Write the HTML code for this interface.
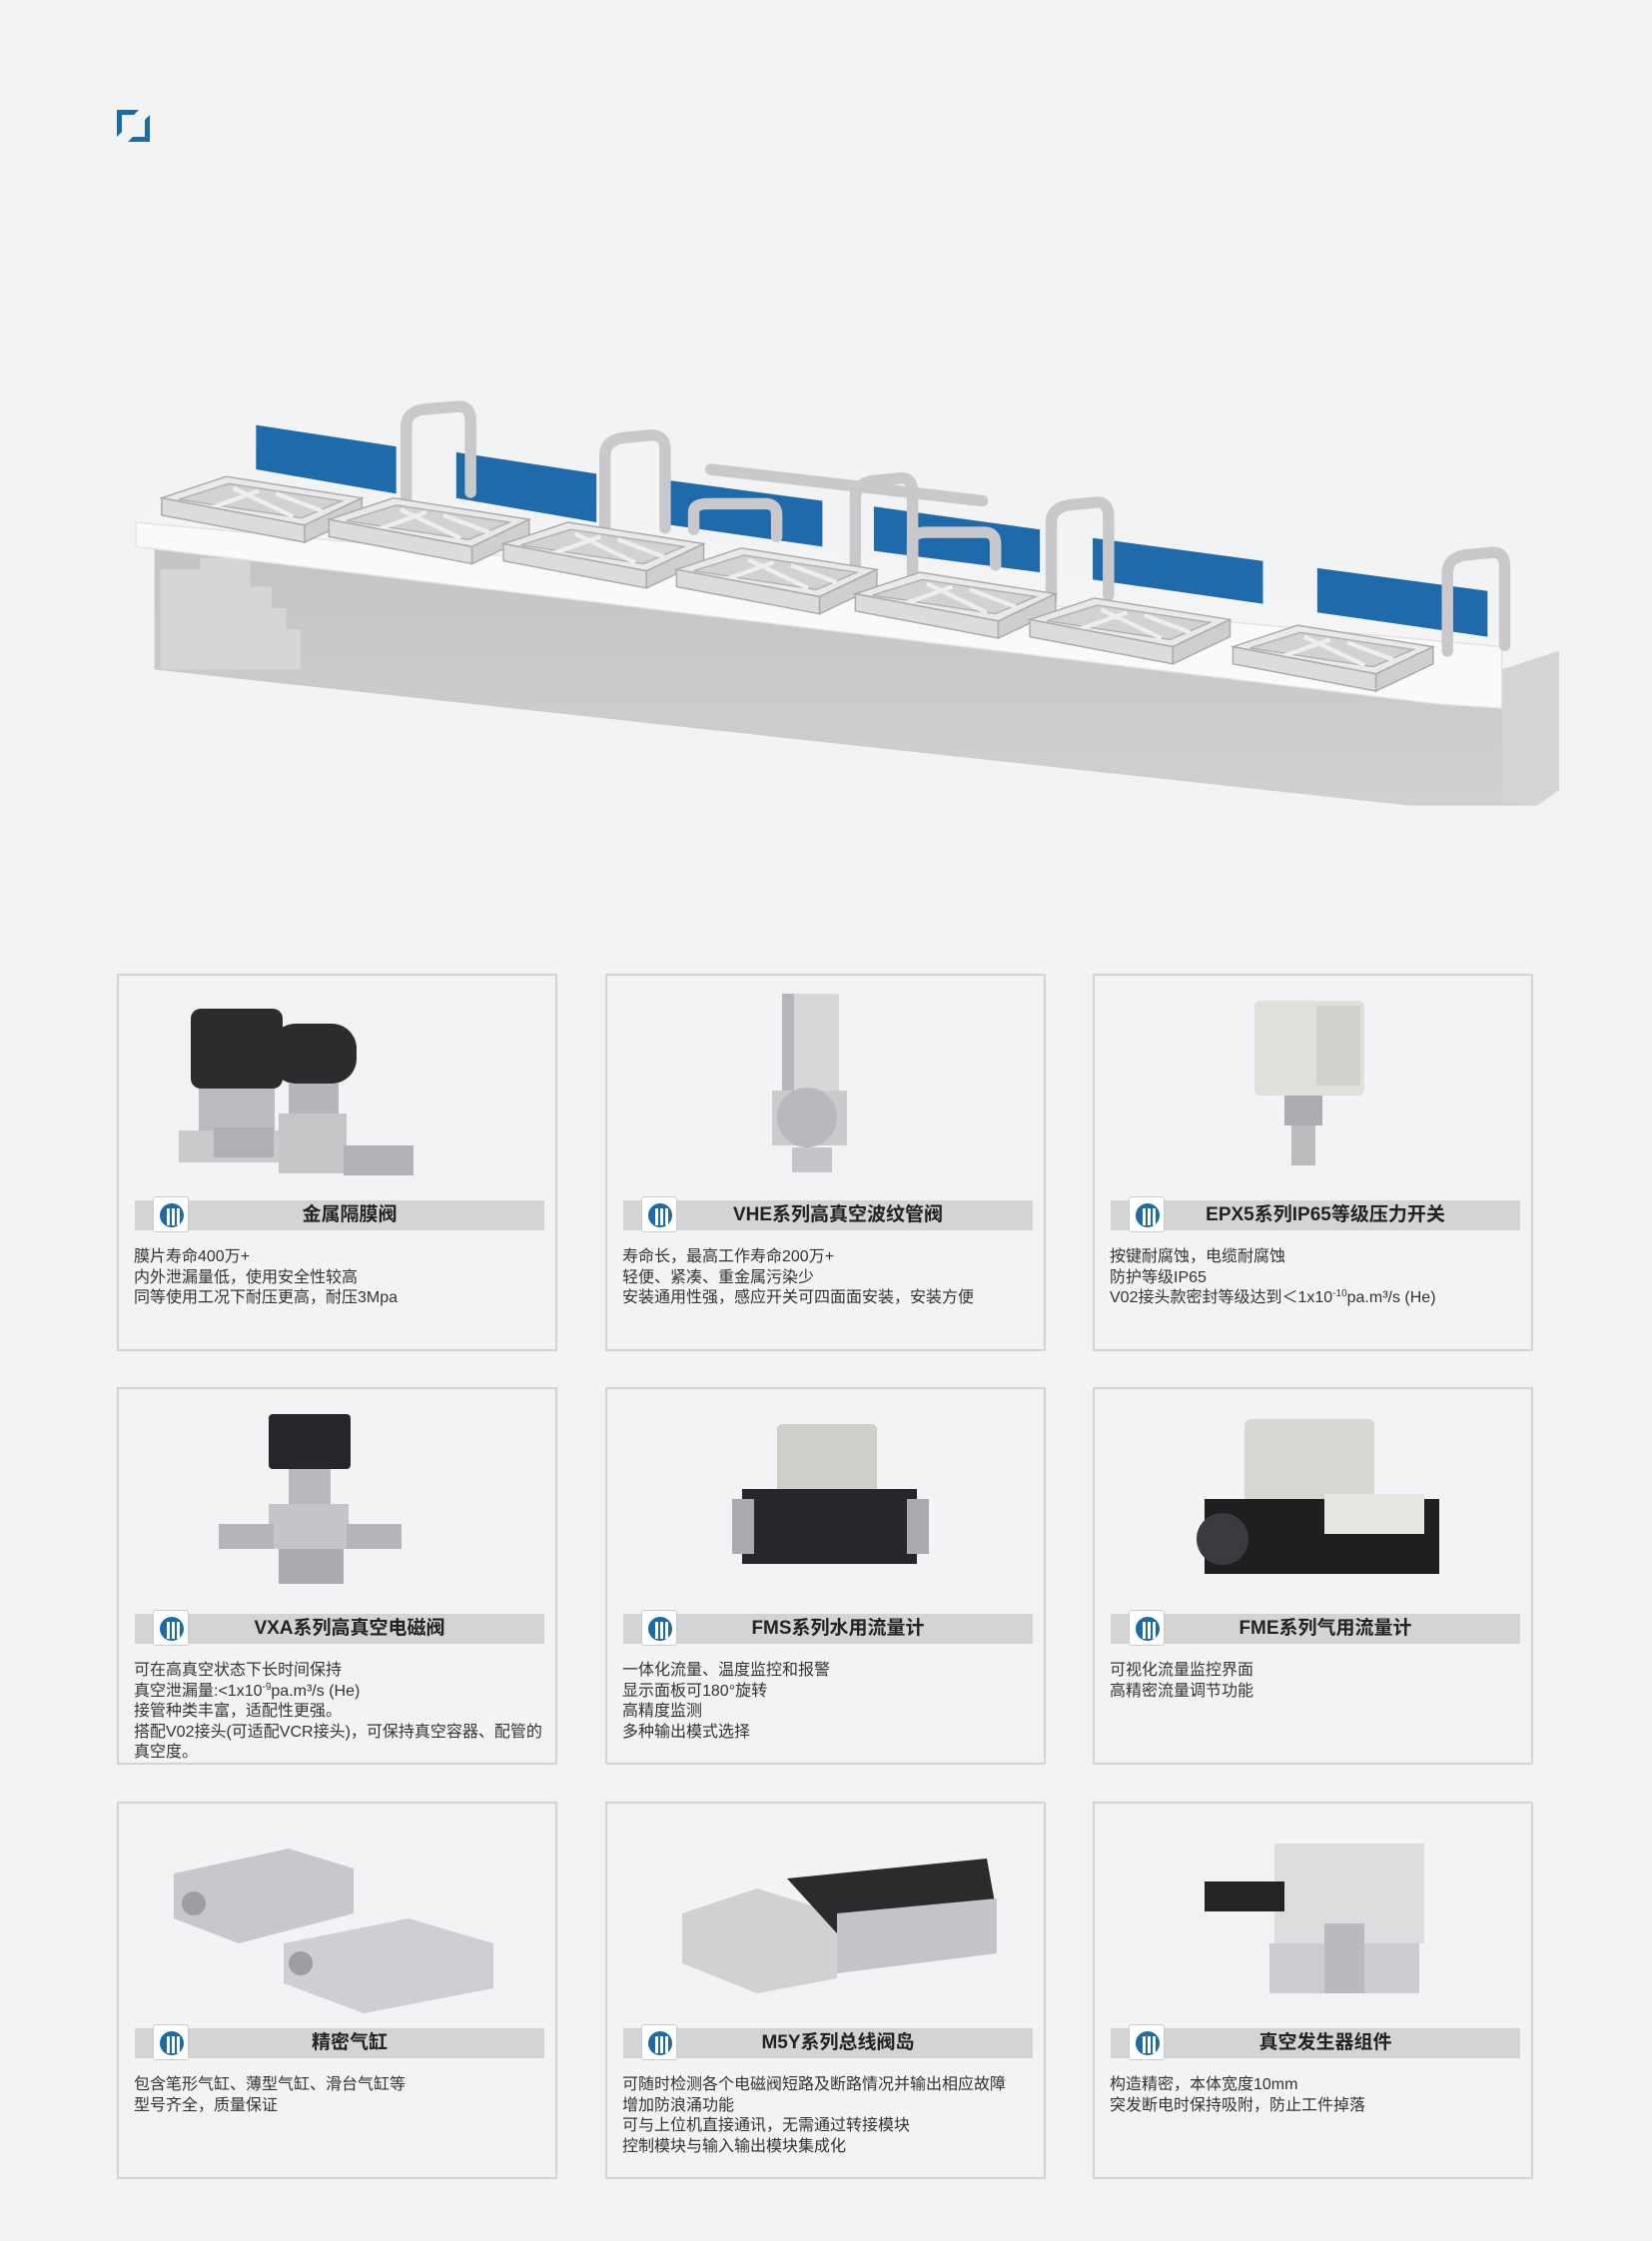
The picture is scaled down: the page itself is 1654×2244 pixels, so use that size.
<!DOCTYPE html>
<html><head><meta charset="utf-8">
<style>
*{margin:0;padding:0;box-sizing:border-box}
body{width:1654px;height:2244px;background:#f2f3f5;position:relative;overflow:hidden;font-family:"Liberation Sans","Noto Sans CJK SC",sans-serif;color:#2a2a2a}
.card{position:absolute;width:441px;height:378px;border:2px solid #d3d4d6;background:#f2f3f5}
.bar{position:absolute;left:16px;top:225px;width:410px;height:30px;background:#d3d4d6;text-align:center;font-size:19px;line-height:30px;font-weight:bold;color:#222;padding-left:20px}
.ic{position:absolute;left:34px;top:221px;width:36px;height:36px;background:#fff;border:1px solid #ccc;border-radius:3px}
.ic:after{content:"";position:absolute;left:6px;top:6px;width:24px;height:24px;border-radius:50%;background:#1d6aa8}
.ic i{position:absolute;top:11px;width:3px;height:17px;background:#fff;z-index:2}
.txt{position:absolute;left:15px;top:272px;font-size:16px;line-height:20.5px;color:#333}
sup{font-size:10px;vertical-align:baseline;position:relative;top:-6px;line-height:0}
.img{position:absolute;left:0;top:0;width:441px;height:215px}
</style></head><body>
<svg style="position:absolute;left:117px;top:110px" width="34" height="33"><path d="M0 0H22L17 5H5V22L0 27Z" fill="#1d6aa8"/><path d="M33 32H11L16 27H28V10L33 5Z" fill="#1d6aa8"/></svg>

<svg style="position:absolute;left:0;top:0" width="1654" height="900" viewBox="0 0 1155 628">
<defs><linearGradient id="g" x1="0" y1="0" x2="0" y2="1"><stop offset="0" stop-color="#c4c4c6"/><stop offset="1" stop-color="#cfd0d2"/></linearGradient>
<g id="tr"><polygon points="0,15 45,0 140,15 100,34" fill="#e9e9eb" stroke="#a9a9ab"/><polygon points="12,16 47,5 126,17 98,29" fill="#d2d2d4" stroke="#b0b0b2"/><path d="M50,8 92,28 M68,10 34,22 M80,12 112,24" stroke="#eeeeef" stroke-width="3" fill="none"/><polygon points="0,15 100,34 100,46 0,27" fill="#dcdcde" stroke="#a9a9ab"/><polygon points="100,34 140,15 140,27 100,46" fill="#cfcfd1" stroke="#a9a9ab"/></g></defs>
<polygon points="108,378 1050,468 1090,455 1090,552 1075,563 985,563 108,468" fill="url(#g)"/>
<polygon points="1050,468 1090,455 1090,552 1075,563 1050,560" fill="#d4d4d6"/>
<polygon points="112,398 140,398 140,390 175,390 175,410 190,410 190,425 200,425 200,440 210,440 210,468 112,468" fill="#d6d6d8"/>
<polygon points="115,343 1058,430 1050,452 95,365" fill="#f4f4f5"/>
<polygon points="95,365 1050,452 1050,495 1005,492 95,382" fill="#fafafa" stroke="#e2e2e4"/>
<g fill="#1f6aab">
<polygon points="179,297 277,312 277,345 179,328"/>
<polygon points="319,316 417,331 417,365 319,348"/>
<polygon points="463,335 575,350 575,382 463,366"/>
<polygon points="611,354 727,370 727,400 611,385"/>
<polygon points="764,376 883,392 883,422 764,405"/>
<polygon points="921,397 1040,413 1040,445 921,428"/>
</g>
<g fill="none" stroke="#c9c9cb" stroke-width="8" stroke-linecap="round">
<path d="M284,352V298q0-10 12-12l25-2q8 0 8 10v50"/>
<path d="M423,370V318q0-10 12-12l20-2q10 0 10 10v55"/>
<path d="M598,400V348q0-10 12-12l20-2q8 0 8 10v60"/>
<path d="M735,420V365q0-10 12-12l20-2q8 0 8 10v55"/>
<path d="M1012,455V400q0-10 12-12l20-2q8 0 8 10v55"/>
<path d="M497,328L687,350"/>
<path d="M485,370v-12q0-6 10-6h40q8 0 8 8v15"/>
<path d="M638,390v-12q0-6 10-6h40q8 0 8 8v15"/>
</g>
<use href="#tr" x="113" y="333"/>
<use href="#tr" x="230" y="348"/>
<use href="#tr" x="352" y="365"/>
<use href="#tr" x="473" y="383"/>
<use href="#tr" x="598" y="400"/>
<use href="#tr" x="720" y="418"/>
<use href="#tr" x="862" y="437"/>
</svg>

<!-- Row 1 -->
<div class="card" style="left:117px;top:975px">
<svg class="img"><rect x="72" y="33" width="92" height="80" rx="10" fill="#2b2c2e"/><rect x="80" y="113" width="76" height="42" fill="#b9bbbe"/><rect x="60" y="155" width="130" height="32" fill="#c8cacc"/><rect x="152" y="48" width="86" height="60" rx="25" fill="#2b2c2e"/><rect x="170" y="108" width="50" height="30" fill="#b4b6b9"/><rect x="160" y="138" width="68" height="60" fill="#c4c6c8"/><rect x="95" y="152" width="60" height="30" fill="#aeb0b3"/><rect x="225" y="170" width="70" height="30" fill="#b1b3b6"/></svg>
<div class="bar">金属隔膜阀</div><div class="ic"><i style="left:13px"></i><i style="left:18px"></i><i style="left:23px"></i></div>
<div class="txt">膜片寿命400万+<br>内外泄漏量低，使用安全性较高<br>同等使用工况下耐压更高，耐压3Mpa</div></div>

<div class="card" style="left:606px;top:975px">
<svg class="img"><rect x="180" y="18" width="52" height="100" fill="#d5d7d9"/><rect x="175" y="18" width="12" height="100" fill="#b5b7ba"/><rect x="165" y="115" width="75" height="55" fill="#c9cbcd"/><circle cx="200" cy="142" r="30" fill="#b7b9bc"/><rect x="185" y="172" width="40" height="25" fill="#c3c5c8"/></svg>
<div class="bar">VHE系列高真空波纹管阀</div><div class="ic"><i style="left:13px"></i><i style="left:18px"></i><i style="left:23px"></i></div>
<div class="txt">寿命长，最高工作寿命200万+<br>轻便、紧凑、重金属污染少<br>安装通用性强，感应开关可四面面安装，安装方便</div></div>

<div class="card" style="left:1094px;top:975px">
<svg class="img"><rect x="160" y="25" width="110" height="95" rx="6" fill="#dfe0dc"/><rect x="222" y="30" width="44" height="80" fill="#cfd2cd"/><rect x="190" y="120" width="38" height="30" fill="#aaacaf"/><rect x="197" y="150" width="24" height="40" fill="#b9bbbd"/></svg>
<div class="bar">EPX5系列IP65等级压力开关</div><div class="ic"><i style="left:13px"></i><i style="left:18px"></i><i style="left:23px"></i></div>
<div class="txt">按键耐腐蚀，电缆耐腐蚀<br>防护等级IP65<br>V02接头款密封等级达到＜1x10<sup>-10</sup>pa.m³/s (He)</div></div>

<!-- Row 2 -->
<div class="card" style="left:117px;top:1389px">
<svg class="img"><rect x="150" y="25" width="82" height="55" rx="4" fill="#26272a"/><rect x="170" y="80" width="42" height="40" fill="#b7b9bc"/><rect x="150" y="115" width="80" height="45" fill="#c3c5c8"/><rect x="100" y="135" width="55" height="25" fill="#b3b5b8"/><rect x="228" y="135" width="55" height="25" fill="#b3b5b8"/><rect x="160" y="160" width="65" height="35" fill="#a9abae"/></svg>
<div class="bar">VXA系列高真空电磁阀</div><div class="ic"><i style="left:13px"></i><i style="left:18px"></i><i style="left:23px"></i></div>
<div class="txt">可在高真空状态下长时间保持<br>真空泄漏量:&lt;1x10<sup>-9</sup>pa.m³/s (He)<br>接管种类丰富，适配性更强。<br>搭配V02接头(可适配VCR接头)，可保持真空容器、配管的<br>真空度。</div></div>

<div class="card" style="left:606px;top:1389px">
<svg class="img"><rect x="170" y="35" width="100" height="70" rx="5" fill="#cfd0cc"/><rect x="135" y="100" width="175" height="75" fill="#26272a"/><rect x="125" y="110" width="22" height="55" fill="#a8aaad"/><rect x="300" y="110" width="22" height="55" fill="#a8aaad"/></svg>
<div class="bar">FMS系列水用流量计</div><div class="ic"><i style="left:13px"></i><i style="left:18px"></i><i style="left:23px"></i></div>
<div class="txt">一体化流量、温度监控和报警<br>显示面板可180°旋转<br>高精度监测<br>多种输出模式选择</div></div>

<div class="card" style="left:1094px;top:1389px">
<svg class="img"><rect x="150" y="30" width="130" height="90" rx="6" fill="#d7d8d4"/><rect x="110" y="110" width="235" height="75" fill="#1e1f21"/><rect x="230" y="105" width="100" height="40" fill="#e6e6e3"/><circle cx="128" cy="150" r="26" fill="#3a3b3e"/></svg>
<div class="bar">FME系列气用流量计</div><div class="ic"><i style="left:13px"></i><i style="left:18px"></i><i style="left:23px"></i></div>
<div class="txt">可视化流量监控界面<br>高精密流量调节功能</div></div>

<!-- Row 3 -->
<div class="card" style="left:117px;top:1804px">
<svg class="img"><polygon points="55,70 170,45 235,65 235,110 120,140 55,115" fill="#c6c8cb"/><polygon points="165,140 290,115 375,140 375,185 245,210 165,180" fill="#cdcfd2"/><circle cx="75" cy="100" r="12" fill="#9c9ea1"/><circle cx="182" cy="160" r="12" fill="#9c9ea1"/></svg>
<div class="bar">精密气缸</div><div class="ic"><i style="left:13px"></i><i style="left:18px"></i><i style="left:23px"></i></div>
<div class="txt">包含笔形气缸、薄型气缸、滑台气缸等<br>型号齐全，质量保证</div></div>

<div class="card" style="left:606px;top:1804px">
<svg class="img"><polygon points="75,110 150,85 230,110 230,175 150,190 75,160" fill="#cfd1d3"/><polygon points="180,75 380,55 390,110 230,130" fill="#2a2b2d"/><polygon points="230,110 390,95 390,150 230,170" fill="#c2c4c7"/></svg>
<div class="bar">M5Y系列总线阀岛</div><div class="ic"><i style="left:13px"></i><i style="left:18px"></i><i style="left:23px"></i></div>
<div class="txt">可随时检测各个电磁阀短路及断路情况并输出相应故障<br>增加防浪涌功能<br>可与上位机直接通讯，无需通过转接模块<br>控制模块与输入输出模块集成化</div></div>

<div class="card" style="left:1094px;top:1804px">
<svg class="img"><rect x="180" y="40" width="150" height="100" fill="#dcdddf"/><rect x="110" y="78" width="80" height="30" fill="#232426"/><rect x="175" y="140" width="150" height="50" fill="#cbcdd0"/><rect x="230" y="120" width="40" height="70" fill="#b8babd"/></svg>
<div class="bar">真空发生器组件</div><div class="ic"><i style="left:13px"></i><i style="left:18px"></i><i style="left:23px"></i></div>
<div class="txt">构造精密，本体宽度10mm<br>突发断电时保持吸附，防止工件掉落</div></div>
</body></html>
